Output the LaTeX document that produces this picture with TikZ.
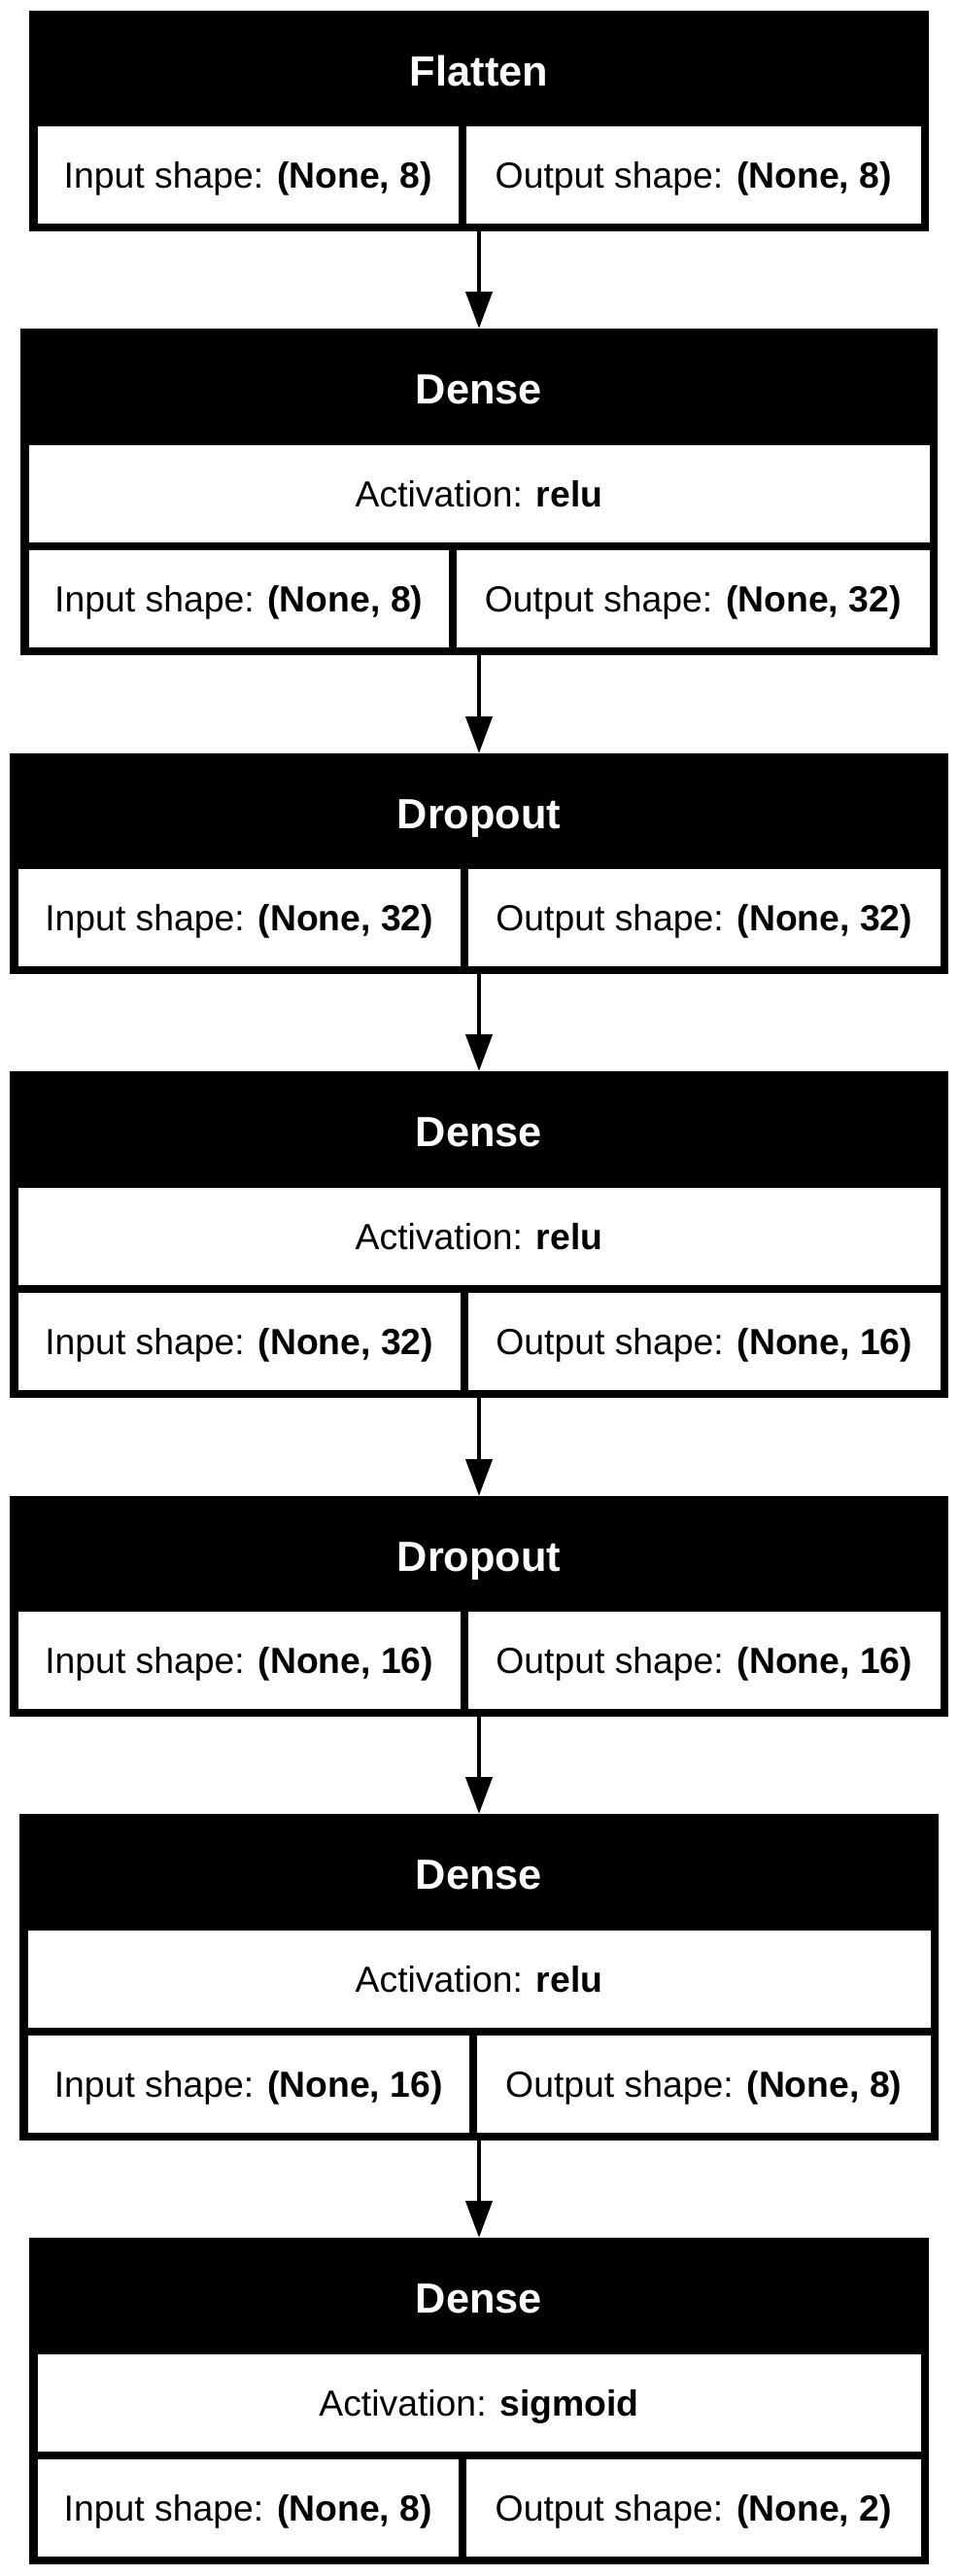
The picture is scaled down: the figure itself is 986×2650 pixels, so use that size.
\documentclass[tikz,border=0pt]{standalone}
\usepackage{fontspec}
\setmainfont{Liberation Sans}
\usetikzlibrary{arrows.meta}
\tikzset{
  layerbox/.style={rectangle, fill=black, draw=none, inner sep=0pt, outer sep=0pt},
  cell/.style={rectangle, fill=white, draw=none, inner sep=0pt, outer sep=0pt,
    text height=7.8pt, text depth=0pt, font=\fontsize{11.2pt}{13pt}\selectfont},
  headtext/.style={rectangle, inner sep=0pt, text=white, text height=10.5pt, text depth=0pt,
    font=\fontsize{13pt}{15pt}\selectfont\bfseries},
  flow/.style={line width=1.3pt, -{Triangle[width=8.1pt,length=11.4pt]}},
}
\newcommand{\layerrect}[7]{\node[#1, minimum width={(#5-#3)*0.3pt}, minimum height={(#6-#4)*0.3pt}] (#2) at ({(#3+#5)/2},{(#4+#6)/2}) {#7};}
\begin{document}
\begin{tikzpicture}[x=0.3pt,y=-0.3pt]
\useasboundingbox (0,0) rectangle (986,2650);
% Box 1: Flatten
\layerrect{layerbox}{L1}{30}{11}{956}{238}{}
\node[headtext] (H1) at (493,70.5) {Flatten};
\layerrect{cell}{I1}{38.5}{130}{472}{230}{Input shape: \textbf{(None, 8)}}
\layerrect{cell}{O1}{480}{130}{947.5}{230}{Output shape: \textbf{(None, 8)}}
% Box 2: Dense
\layerrect{layerbox}{L2}{21}{338}{965}{674}{}
\node[headtext] (H2) at (493,398) {Dense};
\layerrect{cell}{A2}{29.5}{458}{956.5}{558}{Activation: \textbf{relu}}
\layerrect{cell}{I2}{29.5}{566}{462}{666}{Input shape: \textbf{(None, 8)}}
\layerrect{cell}{O2}{470}{566}{956.5}{666}{Output shape: \textbf{(None, 32)}}
% Box 3: Dropout
\layerrect{layerbox}{L3}{10}{775}{976}{1002}{}
\node[headtext] (H3) at (493,834.5) {Dropout};
\layerrect{cell}{I3}{18.5}{894}{474}{994}{Input shape: \textbf{(None, 32)}}
\layerrect{cell}{O3}{482}{894}{967.5}{994}{Output shape: \textbf{(None, 32)}}
% Box 4: Dense
\layerrect{layerbox}{L4}{10}{1102}{976}{1438}{}
\node[headtext] (H4) at (493,1162) {Dense};
\layerrect{cell}{A4}{18.5}{1222}{967.5}{1322}{Activation: \textbf{relu}}
\layerrect{cell}{I4}{18.5}{1330}{474}{1430}{Input shape: \textbf{(None, 32)}}
\layerrect{cell}{O4}{482}{1330}{967.5}{1430}{Output shape: \textbf{(None, 16)}}
% Box 5: Dropout
\layerrect{layerbox}{L5}{10}{1539}{976}{1766}{}
\node[headtext] (H5) at (493,1598.5) {Dropout};
\layerrect{cell}{I5}{18.5}{1658}{474}{1758}{Input shape: \textbf{(None, 16)}}
\layerrect{cell}{O5}{482}{1658}{967.5}{1758}{Output shape: \textbf{(None, 16)}}
% Box 6: Dense
\layerrect{layerbox}{L6}{20}{1866}{966}{2202}{}
\node[headtext] (H6) at (493,1926) {Dense};
\layerrect{cell}{A6}{28.5}{1986}{957.5}{2086}{Activation: \textbf{relu}}
\layerrect{cell}{I6}{28.5}{2094}{483}{2194}{Input shape: \textbf{(None, 16)}}
\layerrect{cell}{O6}{491}{2094}{957.5}{2194}{Output shape: \textbf{(None, 8)}}
% Box 7: Dense
\layerrect{layerbox}{L7}{30}{2302}{956}{2638}{}
\node[headtext] (H7) at (493,2362) {Dense};
\layerrect{cell}{A7}{38.5}{2422}{947.5}{2522}{Activation: \textbf{sigmoid}}
\layerrect{cell}{I7}{38.5}{2530}{472}{2630}{Input shape: \textbf{(None, 8)}}
\layerrect{cell}{O7}{480}{2530}{947.5}{2630}{Output shape: \textbf{(None, 2)}}
% connectors
\draw[flow] (L1.south) -- (L2.north);
\draw[flow] (L2.south) -- (L3.north);
\draw[flow] (L3.south) -- (L4.north);
\draw[flow] (L4.south) -- (L5.north);
\draw[flow] (L5.south) -- (L6.north);
\draw[flow] (L6.south) -- (L7.north);
\end{tikzpicture}
\end{document}
